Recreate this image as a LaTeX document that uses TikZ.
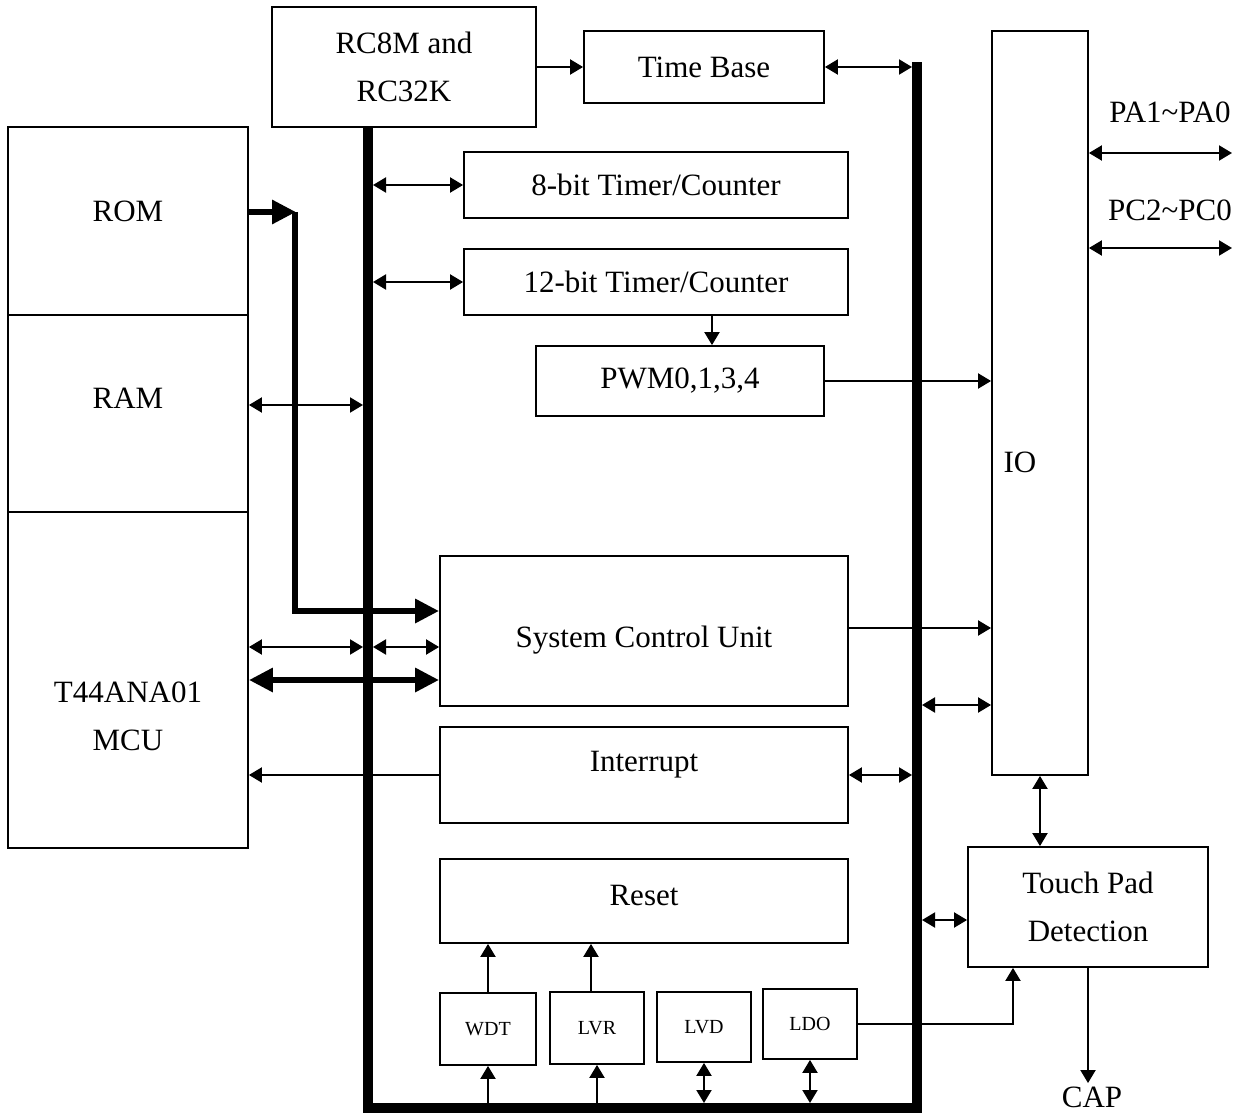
\documentclass[tikz,border=0pt]{standalone}
\usepackage{fontspec}
\setmainfont{Liberation Serif}
\usetikzlibrary{arrows.meta}

\begin{document}
\begin{tikzpicture}[x=1pt, y=-1pt,
  box/.style={draw, line width=1.8pt, inner sep=0pt},
  big/.style={font=\fontsize{31}{48}\selectfont},
  small/.style={font=\fontsize{20}{24}\selectfont},
  lnk/.style={line width=2pt, -{Triangle[length=13pt,width=15pt]}},
  dlnk/.style={line width=2pt, {Triangle[length=13pt,width=15pt]}-{Triangle[length=13pt,width=15pt]}},
  fat/.style={line width=6pt, line join=miter, -{Triangle[length=24pt,width=23pt]}},
  dfat/.style={line width=6pt, {Triangle[length=24pt,width=23pt]}-{Triangle[length=24pt,width=23pt]}},
  bus/.style={line width=10pt, line join=miter}]
\fill[white] (0,0) rectangle (1244,1118);
\useasboundingbox (0,0) rectangle (1244,1118);

% memory block
\node[box, minimum width=240pt, minimum height=188pt] (rom) at (128,221) {};
\node[box, minimum width=240pt, minimum height=197pt] (ram) at (128,413.5) {};
\node[box, minimum width=240pt, minimum height=336pt] (mcu) at (128,680) {};
\node[big] (romtxt) at (128,211) {ROM};
\node[big] (ramtxt) at (128,398) {RAM};
\node[big, align=center] (mcutxt) at (128,716) {T44ANA01\\MCU};

% clock and timers
\node[box, big, align=center, minimum width=264pt, minimum height=120pt] (rc) at (404,67) {RC8M and\\RC32K};
\node[box, big, minimum width=240pt, minimum height=72pt] (tbase) at (704,67) {Time Base};
\node[box, big, minimum width=384pt, minimum height=66pt] (tmr8) at (656,185) {8-bit Timer/Counter};
\node[box, big, minimum width=384pt, minimum height=66pt] (tmr12) at (656,282) {12-bit Timer/Counter};
\node[box, big, minimum width=288pt, minimum height=70pt] (pwm) at (680,381) {PWM0,1,3,4};

% control
\node[box, minimum width=408pt, minimum height=150pt] (scu) at (644,631) {};
\node[big] (scutxt) at (644,640) {System Control Unit};
\node[box, minimum width=408pt, minimum height=96pt] (intr) at (644,775) {};
\node[big] (intrtxt) at (644,765) {Interrupt};
\node[box, minimum width=408pt, minimum height=84pt] (reset) at (644,901) {};
\node[big] (resettxt) at (644,895) {Reset};
\node[box, small, minimum width=96pt, minimum height=72pt] (wdt) at (488,1029) {WDT};
\node[box, small, minimum width=94pt, minimum height=72pt] (lvr) at (597,1028) {LVR};
\node[box, small, minimum width=94pt, minimum height=70pt] (lvd) at (704,1027) {LVD};
\node[box, small, minimum width=94pt, minimum height=70pt] (ldo) at (810,1024) {LDO};

% io side
\node[box, minimum width=96pt, minimum height=744pt] (io) at (1040,403) {};
\node[big] (iotxt) at (1020,462) {IO};
\node[box, big, align=center, minimum width=240pt, minimum height=120pt] (touch) at (1088,907) {Touch Pad\\Detection};
\node[big] (cap) at (1092,1097) {CAP};
\node[big] (patxt) at (1170,112) {PA1\textasciitilde PA0};
\node[big] (pctxt) at (1170,210) {PC2\textasciitilde PC0};

% bus
\coordinate (busA) at (368,127);
\coordinate (busB) at (368,1108);
\coordinate (busC) at (917,1108);
\coordinate (busD) at (917,62);
\draw[bus] (busA) -- (busB) -- (busC) -- (busD);
\coordinate (lbW) at (363,0);
\coordinate (lbE) at (373,0);
\coordinate (rbW) at (912,0);
\coordinate (rbE) at (922,0);
\coordinate (bbN) at (0,1103);

\draw[lnk] (rc) -- (tbase);
\draw[dlnk] (tbase.east) -- (tbase.east -| rbW);
\draw[dlnk] (tmr8.west -| lbE) -- (tmr8.west);
\draw[dlnk] (tmr12.west -| lbE) -- (tmr12.west);
\draw[lnk] ([xshift=56pt]tmr12.south) -- ([xshift=56pt]tmr12.south |- pwm.north);
\draw[lnk] (pwm.east) -- (pwm.east -| io.west);

% rom path
\coordinate (romtap) at (295,212);
\coordinate (scuin) at (scu.west |- 0,611);
\draw[fat] (rom.east |- romtap) -- ([xshift=1pt]romtap);
\draw[fat] (romtap) -- (romtap |- scuin) -- (scuin);
\coordinate (ramtap) at ([yshift=8.5pt]ram.east);
\draw[dlnk] (ramtap) -- (ramtap -| lbW);

% scu and interrupt
\coordinate (scuA) at (scu.west |- 0,647);
\coordinate (scuB) at (scu.west |- 0,680);
\coordinate (scuout) at (scu.east |- 0,628);
\draw[dlnk] (scuA -| mcu.east) -- (scuA -| lbW);
\draw[dlnk] (scuA -| lbE) -- (scuA);
\draw[dfat] (scuB -| mcu.east) -- (scuB);
\draw[lnk] (scuout) -- (scuout -| io.west);
\draw[lnk] (intr.west) -- (intr.west -| mcu.east);
\draw[dlnk] (intr.east) -- (intr.east -| rbW);

% io and touch pad
\coordinate (iobus) at (io.west |- 0,705);
\draw[dlnk] (iobus -| rbE) -- (iobus);
\draw[dlnk] (io.south) -- (io.south |- touch.north);
\coordinate (tpin) at ([yshift=-13pt]touch.west);
\draw[dlnk] (tpin -| rbE) -- (tpin);
\coordinate (paend) at (1232,153);
\coordinate (pcend) at (1232,248);
\draw[dlnk] (io.east |- paend) -- (paend);
\draw[dlnk] (io.east |- pcend) -- (pcend);
\draw[lnk] (touch.south) -- (touch.south |- cap.north);

% reset sources
\coordinate (lvrup) at ([xshift=-6pt]lvr.north);
\draw[lnk] (wdt.north) -- (wdt.north |- reset.south);
\draw[lnk] (lvrup) -- (lvrup |- reset.south);
\draw[lnk] (wdt.south |- bbN) -- (wdt.south);
\draw[lnk] (lvr.south |- bbN) -- (lvr.south);
\draw[dlnk] (lvd.south |- bbN) -- (lvd.south);
\draw[dlnk] (ldo.south |- bbN) -- (ldo.south);
\draw[lnk] (ldo.east) -| ([xshift=-75pt]touch.south);
\end{tikzpicture}
\end{document}
